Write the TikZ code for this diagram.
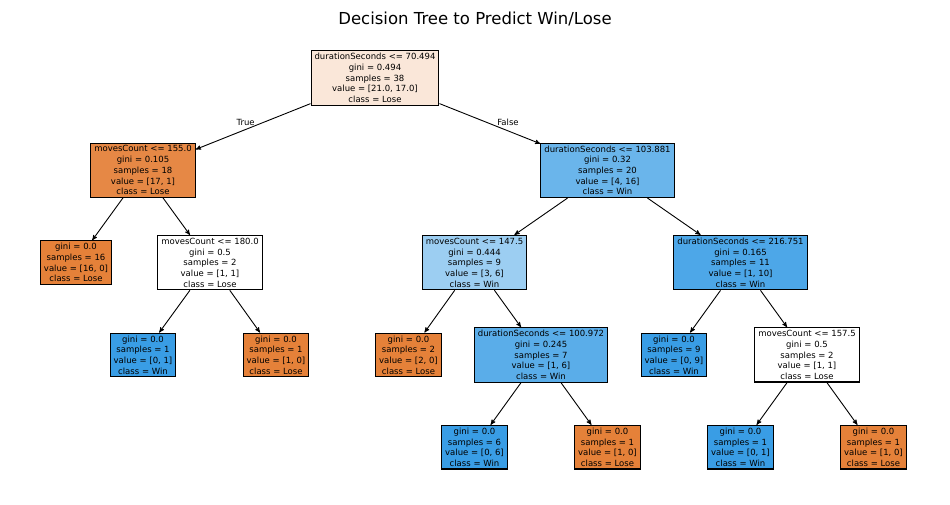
\documentclass[tikz,border=0pt]{standalone}
\usepackage{fontspec}
\setmainfont{DejaVu Sans}
\usetikzlibrary{arrows}
\definecolor{lose}{HTML}{E58139}
\definecolor{win}{HTML}{399DE5}
\definecolor{rootc}{HTML}{FAE7D9}
\definecolor{loseb}{HTML}{E68845}
\definecolor{winb}{HTML}{6AB5EB}
\definecolor{winc}{HTML}{9CCEF2}
\definecolor{wind}{HTML}{4DA7E8}
\definecolor{wine}{HTML}{5AADE9}

\begin{document}
\begin{tikzpicture}[->,>=stealth',node distance=92.3pt,line width=0.9pt,
	tn/.style={draw=black,line width=1.1pt,rectangle,align=center,inner xsep=3.5pt,inner ysep=2.5pt,font=\fontsize{8.5}{10.7}\selectfont},
	elab/.style={inner sep=0pt,font=\fontsize{8.5}{10.7}\selectfont}]
			\useasboundingbox (0,0) rectangle (950pt,-504pt);
			\node[tn, fill=rootc] at (375pt,-78pt) (R) {durationSeconds <= 70.494\\gini = 0.494\\samples = 38\\value = [21.0, 17.0]\\class = Lose};
			\node[above of=R, node distance=59pt, xshift=100pt, inner sep=0pt, font=\fontsize{16.5}{20}\selectfont] (T) {Decision Tree to Predict Win/Lose};
			\node[tn, fill=loseb, below of=R, xshift=-232pt]  (A) {movesCount <= 155.0\\gini = 0.105\\samples = 18\\value = [17, 1]\\class = Lose};
			\node[tn, fill=winb, below of=R, xshift=232.5pt]  (B) {durationSeconds <= 103.881\\gini = 0.32\\samples = 20\\value = [4, 16]\\class = Win};
			\node[tn, fill=lose, below of=A, xshift=-67pt]    (C) {gini = 0.0\\samples = 16\\value = [16, 0]\\class = Lose};
			\node[tn, fill=white, below of=A, xshift=67pt]    (D) {movesCount <= 180.0\\gini = 0.5\\samples = 2\\value = [1, 1]\\class = Lose};
			\node[tn, fill=winc, below of=B, xshift=-133pt]   (E) {movesCount <= 147.5\\gini = 0.444\\samples = 9\\value = [3, 6]\\class = Win};
			\node[tn, fill=wind, below of=B, xshift=133pt]    (F) {durationSeconds <= 216.751\\gini = 0.165\\samples = 11\\value = [1, 10]\\class = Win};
			\node[tn, fill=win, below of=D, xshift=-67pt]     (G) {gini = 0.0\\samples = 1\\value = [0, 1]\\class = Win};
			\node[tn, fill=lose, below of=D, xshift=66pt]     (H) {gini = 0.0\\samples = 1\\value = [1, 0]\\class = Lose};
			\node[tn, fill=lose, below of=E, xshift=-66pt]    (I) {gini = 0.0\\samples = 2\\value = [2, 0]\\class = Lose};
			\node[tn, fill=wine, below of=E, xshift=66.5pt]   (J) {durationSeconds <= 100.972\\gini = 0.245\\samples = 7\\value = [1, 6]\\class = Win};
			\node[tn, fill=win, below of=F, xshift=-66.5pt]   (K) {gini = 0.0\\samples = 9\\value = [0, 9]\\class = Win};
			\node[tn, fill=white, below of=F, xshift=66.5pt]  (L) {movesCount <= 157.5\\gini = 0.5\\samples = 2\\value = [1, 1]\\class = Lose};
			\node[tn, fill=win, below of=J, xshift=-66.5pt]   (M) {gini = 0.0\\samples = 6\\value = [0, 6]\\class = Win};
			\node[tn, fill=lose, below of=J, xshift=66.5pt]   (N) {gini = 0.0\\samples = 1\\value = [1, 0]\\class = Lose};
			\node[tn, fill=win, below of=L, xshift=-66.5pt]   (O) {gini = 0.0\\samples = 1\\value = [0, 1]\\class = Win};
			\node[tn, fill=lose, below of=L, xshift=66.5pt]   (P) {gini = 0.0\\samples = 1\\value = [1, 0]\\class = Lose};
			\draw (R) edge node[elab, anchor=east, xshift=2pt, yshift=4pt] {True} (A);
			\draw (R) edge node[elab, anchor=west, xshift=7pt, yshift=1pt] {False} (B);
			\draw (A) edge (C);
			\draw (A) edge (D);
			\draw (B) edge (E);
			\draw (B) edge (F);
			\draw (D) edge (G);
			\draw (D) edge (H);
			\draw (E) edge (I);
			\draw (E) edge (J);
			\draw (F) edge (K);
			\draw (F) edge (L);
			\draw (J) edge (M);
			\draw (J) edge (N);
			\draw (L) edge (O);
			\draw (L) edge (P);
		\end{tikzpicture}
\end{document}
